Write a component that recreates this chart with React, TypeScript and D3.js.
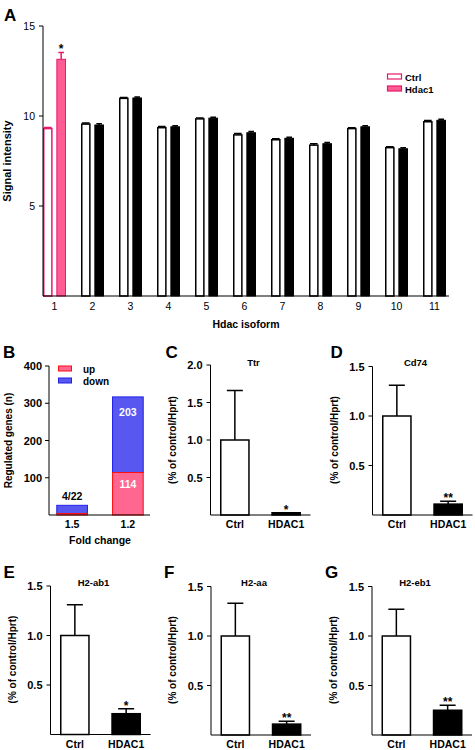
import React from "react";
import * as d3 from "d3";

// ---------- Panel A data ----------
const isoforms = ["1", "2", "3", "4", "5", "6", "7", "8", "9", "10", "11"];
const ctrlSignal = [9.3, 9.55, 10.98, 9.35, 9.84, 8.95, 8.68, 8.38, 9.3, 8.24, 9.68];
const ctrlSignalErr = [0.06, 0.06, 0.05, 0.06, 0.05, 0.08, 0.06, 0.08, 0.05, 0.05, 0.07];
const hdac1Signal = [13.15, 9.5, 11.0, 9.4, 9.88, 9.07, 8.76, 8.46, 9.4, 8.18, 9.76];
const hdac1SignalErr = [0.38, 0.07, 0.05, 0.06, 0.05, 0.07, 0.06, 0.07, 0.06, 0.05, 0.06];
const signalTicks = [5, 10, 15];

// ---------- Panel B data ----------
const foldChanges = ["1.5", "1.2"];
const upGenes = [4, 114];
const downGenes = [22, 203];
const genesTicks = [100, 200, 300, 400];

// ---------- Panels C-G data ----------
const groups = ["Ctrl", "HDAC1"];
const genes = ["Ttr", "Cd74", "H2-ab1", "H2-aa", "H2-eb1"];
const panelLetters = ["C", "D", "E", "F", "G"];
const ctrlExpr = [1.0, 1.0, 1.0, 1.0, 1.0];
const ctrlExprErr = [0.66, 0.31, 0.31, 0.33, 0.27];
const hdacExpr = [0.03, 0.11, 0.21, 0.11, 0.25];
const hdacExprErr = [0.0, 0.03, 0.05, 0.03, 0.05];
const signif = ["*", "**", "*", "**", "**"];
const exprMax = [2.0, 1.5, 1.5, 1.5, 1.5];
const exprTicks = [[0.5, 1.0, 1.5, 2.0], [0.5, 1.0, 1.5], [0.5, 1.0, 1.5], [0.5, 1.0, 1.5], [0.5, 1.0, 1.5]];

const FONT = "'Liberation Sans', Arial, sans-serif";
const PINK = "#ff5c93";
const PINK_DARK = "#e8186d";

function PanelA() {
  const x0 = 43, xEnd = 449, y0 = 296, yTop = 26;
  const y = d3.scaleLinear().domain([0, 15]).range([y0, yTop]);
  const xb = d3.scaleBand<string>().domain(isoforms).range([43, 446]).paddingInner(0.395).paddingOuter(0);
  const xi = d3.scaleBand<string>().domain(["ctrl", "hdac"]).range([0, xb.bandwidth()]).paddingInner(0.28);
  const bw = xi.bandwidth();
  return (
    <g>
      <text x={4} y={21} fontSize={17} fontWeight="bold" fontFamily={FONT}>A</text>
      {isoforms.map((k, i) => {
        const gx = xb(k)!;
        const cx = gx + xi("ctrl")!;
        const hx = gx + xi("hdac")!;
        const first = i === 0;
        const cStroke = first ? PINK_DARK : "#000";
        const hFill = first ? PINK : "#000";
        const hStroke = first ? PINK_DARK : "#000";
        const cTop = y(ctrlSignal[i]);
        const hTop = y(hdac1Signal[i]);
        const cErr = y(ctrlSignal[i] + ctrlSignalErr[i]);
        const hErr = y(hdac1Signal[i] + hdac1SignalErr[i]);
        return (
          <g key={k}>
            <path d={`M${cx + bw / 2},${cTop} V${cErr} M${cx + 1},${cErr} H${cx + bw - 1}`} stroke={cStroke} strokeWidth={1.5} fill="none" />
            <rect x={cx + 0.75} y={cTop} width={bw - 1.5} height={y0 - cTop} fill="#fff" stroke={cStroke} strokeWidth={1.5} />
            <path d={`M${hx + bw / 2},${hTop} V${hErr} M${hx + 2},${hErr} H${hx + bw - 2}`} stroke={hStroke} strokeWidth={1.5} fill="none" />
            <rect x={hx + 0.5} y={hTop} width={bw - 1} height={y0 - hTop} fill={hFill} stroke={hStroke} strokeWidth={1} />
            <text x={gx + xb.bandwidth() / 2} y={310} textAnchor="middle" fontSize={10.5} fontFamily={FONT}>{k}</text>
            {first && (
              <text x={hx + bw / 2} y={hErr + 1} textAnchor="middle" fontSize={12} fontWeight="bold" fontFamily={FONT}>*</text>
            )}
          </g>
        );
      })}
      <line x1={x0} x2={x0} y1={y0} y2={yTop} stroke="#000" strokeWidth={1} />
      <line x1={x0} x2={xEnd} y1={y0} y2={y0} stroke="#000" strokeWidth={1.2} />
      {signalTicks.map((t) => (
        <g key={t}>
          <line x1={x0 - 4} x2={x0} y1={y(t)} y2={y(t)} stroke="#000" />
          <text x={35} y={y(t) + 3.8} textAnchor="end" fontSize={10.5} fontFamily={FONT}>{t}</text>
        </g>
      ))}
      <text x={246} y={328} textAnchor="middle" fontSize={10.5} fontWeight="bold" fontFamily={FONT}>Hdac isoform</text>
      <text transform={`translate(11,${(y0 + yTop) / 2}) rotate(-90)`} textAnchor="middle" fontSize={11} fontWeight="bold" fontFamily={FONT}>Signal intensity</text>
      {/* legend */}
      <rect x={387.5} y={74} width={14} height={5} fill="#fff" stroke={PINK_DARK} strokeWidth={1.2} />
      <text x={405} y={80.5} fontSize={9.5} fontWeight="bold" fontFamily={FONT}>Ctrl</text>
      <rect x={387.5} y={86} width={14} height={5} fill={PINK} stroke={PINK_DARK} strokeWidth={1.2} />
      <text x={405} y={92.5} fontSize={9.5} fontWeight="bold" fontFamily={FONT}>Hdac1</text>
    </g>
  );
}

function PanelB() {
  const x0 = 49, xEnd = 150, y0 = 515;
  const y = d3.scaleLinear().domain([0, 400]).range([y0, 366]);
  const x = d3.scaleBand<string>().domain(foldChanges).range([54, 146]).paddingInner(0.45).paddingOuter(0.05);
  const UP = "#ff6690", UPS = "#ff1010", DN = "#5858f0", DNS = "#2020e8";
  return (
    <g>
      <text x={3} y={358} fontSize={17} fontWeight="bold" fontFamily={FONT}>B</text>
      {foldChanges.map((f, i) => {
        const bx = x(f)!;
        const w = x.bandwidth();
        const upTop = y(upGenes[i]);
        const totTop = y(upGenes[i] + downGenes[i]);
        return (
          <g key={f}>
            <rect x={bx} y={totTop} width={w} height={upTop - totTop} fill={DN} stroke={DNS} strokeWidth={1} />
            <rect x={bx} y={upTop} width={w} height={y0 - upTop} fill={UP} stroke={UPS} strokeWidth={1} />
            <text x={bx + w / 2} y={528} textAnchor="middle" fontSize={10.5} fontWeight="bold" fontFamily={FONT}>{f}</text>
          </g>
        );
      })}
      {(() => {
        const bx = x("1.2")!, w = x.bandwidth();
        const bx0 = x("1.5")!;
        return (
          <g fontFamily={FONT} fontWeight="bold" fontSize={10.5} textAnchor="middle">
            <text x={bx + w / 2} y={y(upGenes[1] + downGenes[1]) + 19} fill="#fff">{downGenes[1]}</text>
            <text x={bx + w / 2} y={y(upGenes[1]) + 15} fill="#fff">{upGenes[1]}</text>
            <text x={bx0 + w / 2} y={y(upGenes[0] + downGenes[0]) - 5}>{`${upGenes[0]}/${downGenes[0]}`}</text>
          </g>
        );
      })()}
      <line x1={x0} x2={x0} y1={y0} y2={y(400)} stroke="#000" strokeWidth={1} />
      <line x1={x0} x2={xEnd} y1={y0} y2={y0} stroke="#000" strokeWidth={1.2} />
      {genesTicks.map((t) => (
        <g key={t}>
          <line x1={x0 - 4} x2={x0} y1={y(t)} y2={y(t)} stroke="#000" />
          <text x={42} y={y(t) + 4} textAnchor="end" fontSize={11} fontWeight="bold" fontFamily={FONT}>{t}</text>
        </g>
      ))}
      <text x={100} y={544} textAnchor="middle" fontSize={10.5} fontWeight="bold" fontFamily={FONT}>Fold change</text>
      <text transform={`translate(12,${(y0 + y(400)) / 2}) rotate(-90)`} textAnchor="middle" fontSize={10} fontWeight="bold" fontFamily={FONT}>Regulated genes (n)</text>
      <rect x={58.5} y={366} width={13} height={5} fill={UP} stroke={UPS} strokeWidth={1} />
      <text x={83} y={372.5} fontSize={10} fontWeight="bold" fontFamily={FONT}>up</text>
      <rect x={58.5} y={378} width={13} height={5} fill={DN} stroke={DNS} strokeWidth={1} />
      <text x={83} y={384.5} fontSize={10} fontWeight="bold" fontFamily={FONT}>down</text>
    </g>
  );
}

function ExprPanel({ i, ox, oy }: { i: number; ox: number; oy: number }) {
  const plotH = exprMax[i] === 2.0 ? 150 : 148.5;
  const y = d3.scaleLinear().domain([0, exprMax[i]]).range([oy, oy - plotH]);
  const x = d3.scaleBand<string>().domain(groups).range([ox, ox + 100]).paddingInner(0.45).paddingOuter(0.2);
  const w = x.bandwidth();
  const vals = [ctrlExpr[i], hdacExpr[i]];
  const errs = [ctrlExprErr[i], hdacExprErr[i]];
  const letterX = ox - (i === 0 ? 45 : i === 1 ? 42 : 47);
  return (
    <g>
      <text x={letterX} y={oy - 157} fontSize={17} fontWeight="bold" fontFamily={FONT}>{panelLetters[i]}</text>
      <text x={ox + 43} y={oy - 149} textAnchor="middle" fontSize={9.5} fontWeight="bold" fontFamily={FONT}>{genes[i]}</text>
      {groups.map((g, j) => {
        const bx = x(g)!;
        const top = y(vals[j]);
        const et = y(vals[j] + errs[j]);
        const cx = bx + w / 2;
        return (
          <g key={g}>
            {errs[j] > 0 && (
              <path d={`M${cx},${top} V${et} M${cx - 8},${et} H${cx + 8}`} stroke="#000" strokeWidth={1.5} fill="none" />
            )}
            <rect x={bx} y={top} width={w} height={oy - top} fill={j === 0 ? "#fff" : "#000"} stroke="#000" strokeWidth={1.5} />
            <text x={cx} y={oy + 13} textAnchor="middle" fontSize={10.5} fontWeight="bold" fontFamily={FONT}>{g}</text>
            {j === 1 && (
              <text x={cx} y={et + 1} textAnchor="middle" fontSize={12} fontWeight="bold" fontFamily={FONT}>{signif[i]}</text>
            )}
          </g>
        );
      })}
      <line x1={ox} x2={ox} y1={oy} y2={y(exprMax[i])} stroke="#000" strokeWidth={1} />
      <line x1={ox} x2={ox + 100} y1={oy} y2={oy} stroke="#000" strokeWidth={1.2} />
      {exprTicks[i].map((t) => (
        <g key={t}>
          <line x1={ox - 4} x2={ox} y1={y(t)} y2={y(t)} stroke="#000" />
          <text x={ox - 8} y={y(t) + 4} textAnchor="end" fontSize={11} fontWeight="bold" fontFamily={FONT}>{t.toFixed(1)}</text>
        </g>
      ))}
      <text transform={`translate(${ox - 35},${oy - 75}) rotate(-90)`} textAnchor="middle" fontSize={10} fontWeight="bold" fontFamily={FONT}>(% of control/Hprt)</text>
    </g>
  );
}

export default function App() {
  const positions = [
    { ox: 210.5, oy: 515 },
    { ox: 372.5, oy: 515 },
    { ox: 50.5, oy: 734.5 },
    { ox: 211, oy: 735 },
    { ox: 372, oy: 735 },
  ];
  return (
    <svg width={475} height={750} style={{ position: "absolute", left: 0, top: 0, background: "#fff" }}>
      <rect width={475} height={750} fill="#fff" />
      <PanelA />
      <PanelB />
      {positions.map((p, i) => (
        <ExprPanel key={i} i={i} ox={p.ox} oy={p.oy} />
      ))}
    </svg>
  );
}
